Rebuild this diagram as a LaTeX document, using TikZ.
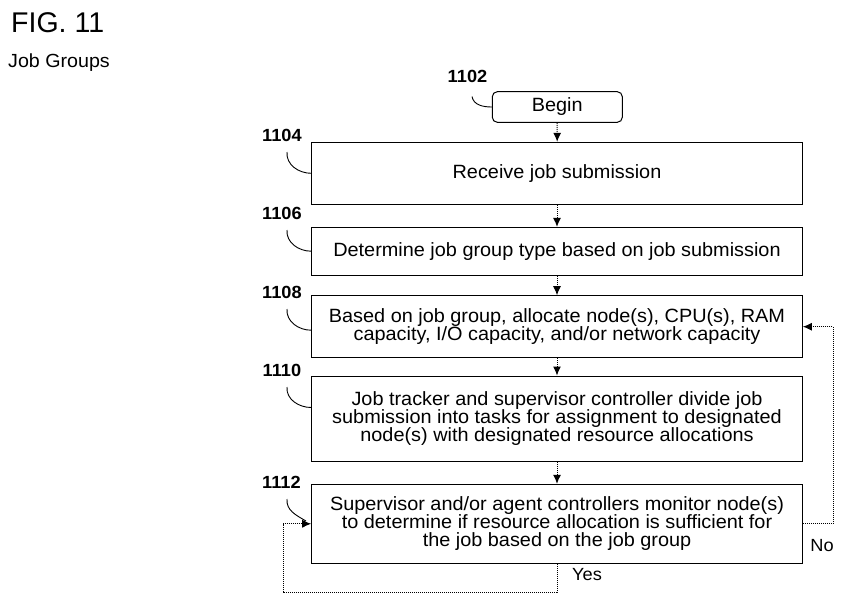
\documentclass[tikz,border=0pt]{standalone}
\usepackage{fontspec}
\setmainfont[FakeStretch=1.035]{Liberation Sans}
\newfontfamily\figfont{Liberation Sans}
\usetikzlibrary{arrows.meta,calc}
\newcommand\bodyfnt{\fontsize{19.2}{18.2}\selectfont\lineskiplimit=-40pt\lineskip=0pt}
\newcommand\lblfnt{\bfseries\fontsize{17.6}{18}\selectfont}
\newcommand\ynfnt{\fontsize{17.6}{18}\selectfont}
\begin{document}
\begin{tikzpicture}[x=1pt,y=-1pt,
  box/.style={draw, line width=1pt, minimum width=490.6pt, inner sep=0pt, align=center, font=\bodyfnt},
  conn/.style={line width=1pt, densely dotted, -{Latex[length=9pt,width=8pt]}},
  leader/.style={line width=0.9pt},
  lbl/.style={font=\lblfnt, inner sep=0pt},
  yn/.style={font=\ynfnt, inner sep=0pt}]
\useasboundingbox[fill=white] (0,0) rectangle (848,607);

% titles
\node[anchor=base west, inner sep=0pt, font=\figfont\fontsize{28.5}{30}\selectfont] (fig) at (11,33) {FIG. 11};
\node[anchor=base west, inner sep=0pt, font=\fontsize{19}{20}\selectfont] (jg) at (8,68) {Job Groups};

% boxes
\node[draw, line width=1pt, rounded corners=5pt, minimum width=130pt, minimum height=30.6pt, inner sep=0pt, font=\bodyfnt] (begin) at (557.3,107) {Begin};
\node[box, minimum height=62pt] (b1104) at (557,173.3) {Receive job submission};
\node[box, minimum height=47.7pt] (b1106) at (557,251.2) {Determine job group type based on job submission};
\node[box, minimum height=62pt] (b1108) at (557,326.7) {Based on job group, allocate node(s), CPU(s), RAM\\capacity, I/O capacity, and/or network capacity};
\node[box, minimum height=85pt] (b1110) at (557,418.5) {Job tracker and supervisor controller divide job\\submission into tasks for assignment to designated\\node(s) with designated resource allocations};
\node[box, minimum height=79pt] (b1112) at (557,523.8) {Supervisor and/or agent controllers monitor node(s)\\to determine if resource allocation is sufficient for\\the job based on the job group};

% reference labels
\node[lbl] (n1102) at (467.5,76.7) {1102};
\node[lbl] (n1104) at (282,135) {1104};
\node[lbl] (n1106) at (282,213) {1106};
\node[lbl] (n1108) at (282,292) {1108};
\node[lbl] (n1110) at (282,370) {1110};
\node[lbl] (n1112) at (281.5,482) {1112};

% leaders
\coordinate (l1102) at (472,96.5);
\coordinate (l1104) at (287,152);
\coordinate (l1106) at (287,230);
\coordinate (l1108) at (287,309);
\coordinate (l1110) at (287,387);
\coordinate (l1112) at (287,499);
\coordinate (e1112) at (306,521);
\draw[leader] (l1102) to[out=-80,in=180] (begin.west);
\draw[leader] (l1104) to[out=-95,in=180] (b1104.west);
\draw[leader] (l1106) to[out=-95,in=180] (b1106.west);
\draw[leader] (l1108) to[out=-95,in=180] ($(b1108.north west)+(0,35)$);
\draw[leader] (l1110) to[out=-95,in=180] ($(b1110.north west)+(0,32)$);
\draw[leader] (l1112) to[out=-95,in=150] (e1112);

% main flow
\draw[conn] (begin) -- (b1104);
\draw[conn] (b1104) -- (b1106);
\draw[conn] (b1106) -- (b1108);
\draw[conn] (b1108) -- (b1110);
\draw[conn] (b1110) -- (b1112);

% loops
\coordinate (nocorner) at (833,523.8);
\draw[conn] (b1112.east) -- (nocorner) |- (b1108.east);
\coordinate (ya) at (557,592);
\coordinate (yb) at (283,592);
\draw[conn] (b1112.south) -- (ya) -- (yb) |- (b1112.west);

\node[yn] (no) at (822,545.7) {No};
\node[yn] (yes) at (587,575) {Yes};
\end{tikzpicture}
\end{document}
